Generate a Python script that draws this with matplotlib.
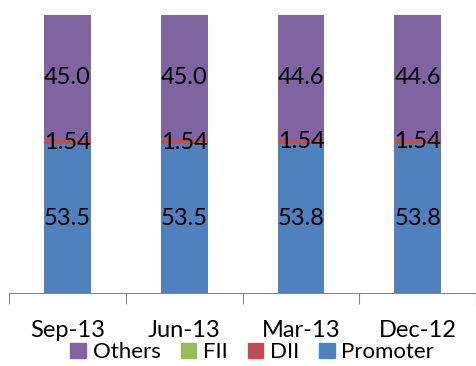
import matplotlib.pyplot as plt
from matplotlib.patches import Patch
import numpy as np

categories = ["Sep-13", "Jun-13", "Mar-13", "Dec-12"]
promoter = [53.5, 53.5, 53.8, 53.8]
dii = [1.54, 1.54, 1.54, 1.54]
fii = [0.0, 0.0, 0.0, 0.0]
others = [45.0, 45.0, 44.6, 44.6]

colors = {"Promoter": "#4F81BD", "DII": "#C0504D", "FII": "#9BBB59", "Others": "#8064A2"}

plt.rcParams['font.family'] = ['Lato', 'DejaVu Sans']

fig = plt.figure(figsize=(4.76, 3.66), dpi=100)
ax = fig.add_axes([0.019, 0.199, 0.981, 0.76])

x = np.arange(len(categories))
w = 0.40
bottom = np.zeros(len(categories))
series = [("Promoter", promoter), ("DII", dii), ("FII", fii), ("Others", others)]
for name, vals in series:
    vals = np.array(vals)
    ax.bar(x, vals, w, bottom=bottom, color=colors[name], edgecolor="none")
    if name != "FII":
        for xi, b, v in zip(x, bottom, vals):
            txt = f"{v:.2f}" if name == "DII" else f"{v:.1f}"
            ax.text(xi, b + v / 2, txt, ha="center", va="center", fontsize=17, color="black")
    bottom += vals

ax.set_xlim(-0.5, len(categories) - 0.5)
ax.set_ylim(0, bottom.max())
ax.set_yticks([])
for s in ["left", "right", "top"]:
    ax.spines[s].set_visible(False)
ax.spines["bottom"].set_color("#868686")
ax.set_xticks(np.arange(-0.5, len(categories), 1.0))
ax.set_xticklabels([])
ax.set_xticks(x, minor=True)
ax.set_xticklabels(categories, minor=True, fontsize=17)
ax.tick_params(axis="x", which="major", direction="out", length=8, color="#868686")
ax.tick_params(axis="x", which="minor", length=0, pad=19)

handles = [Patch(color=colors[n]) for n in ["Others", "FII", "DII", "Promoter"]]
fig.legend(handles, ["Others", "FII", "DII", "Promoter"], loc="lower center",
           bbox_to_anchor=(0.53, -0.045), ncol=4, frameon=False, fontsize=16,
           handlelength=0.7, handleheight=0.7, handletextpad=0.3, columnspacing=0.9)

fig.savefig("out.png", dpi=100)
